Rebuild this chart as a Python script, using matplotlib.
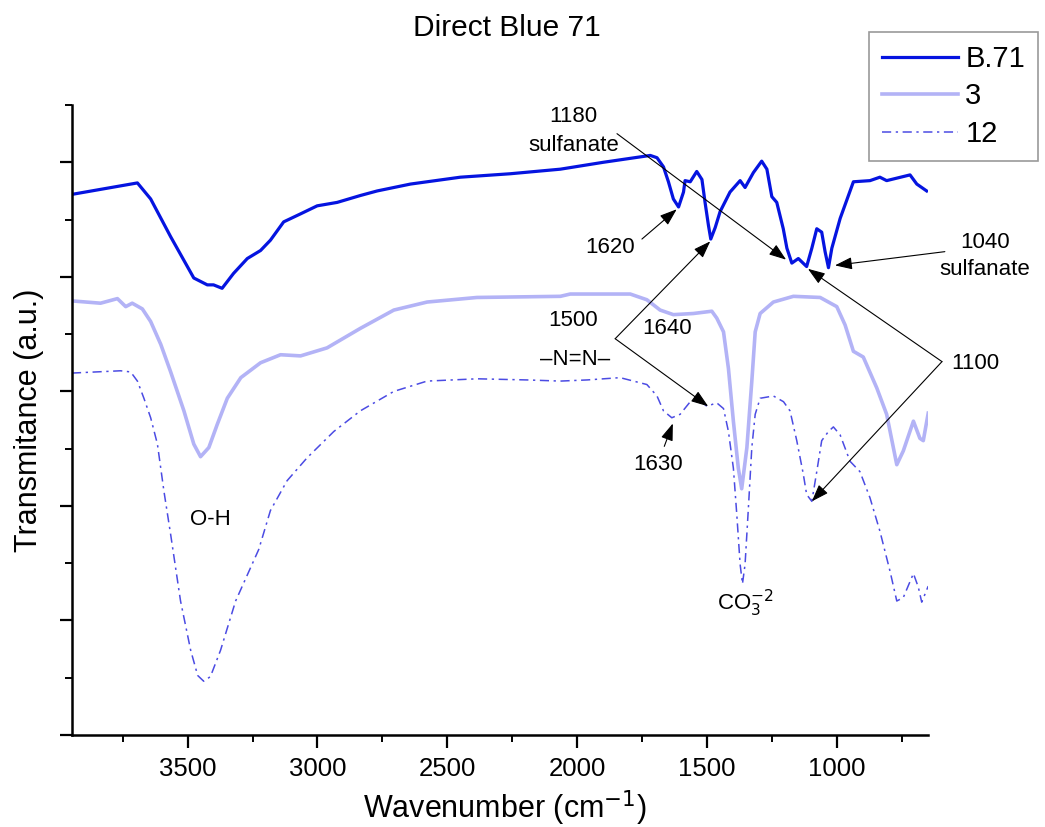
import matplotlib
matplotlib.use("Agg")
import matplotlib.pyplot as plt
from matplotlib.ticker import MultipleLocator, NullFormatter

plt.rcParams['font.family'] = ['Liberation Sans', 'DejaVu Sans']

# B.71 (dye)
wn_b71 = [3945, 3693, 3642, 3565, 3476, 3424, 3400, 3367, 3323, 3270, 3219, 3181,
          3130, 3065, 3001, 2924, 2835, 2770, 2642, 2450, 2258, 2065, 1900, 1719,
          1693, 1668, 1649, 1630, 1610, 1591, 1585, 1565, 1540, 1520, 1508, 1495,
          1486, 1469, 1450, 1412, 1373, 1354, 1322, 1290, 1270, 1251, 1232, 1207,
          1193, 1174, 1149, 1117, 1097, 1078, 1059, 1046, 1033, 1020, 988, 937,
          873, 835, 809, 719, 693, 655]
t_b71 = [4.72, 4.82, 4.68, 4.35, 3.99, 3.93, 3.93, 3.90, 4.03, 4.16, 4.23, 4.32,
         4.48, 4.55, 4.62, 4.65, 4.71, 4.75, 4.81, 4.87, 4.90, 4.94, 5.00, 5.06,
         5.04, 4.96, 4.83, 4.68, 4.61, 4.74, 4.84, 4.83, 4.92, 4.85, 4.65, 4.45,
         4.33, 4.43, 4.57, 4.74, 4.84, 4.78, 4.91, 5.01, 4.94, 4.70, 4.65, 4.42,
         4.25, 4.12, 4.16, 4.09, 4.25, 4.42, 4.39, 4.22, 4.08, 4.25, 4.51, 4.83,
         4.84, 4.87, 4.84, 4.89, 4.81, 4.75]

# sample 3
wn_3 = [3945, 3835, 3770, 3738, 3713, 3674, 3642, 3603, 3565, 3514, 3476, 3450,
        3418, 3386, 3347, 3295, 3219, 3142, 3065, 2963, 2835, 2706, 2578, 2386,
        2065, 2027, 1796, 1732, 1681, 1630, 1553, 1482, 1463, 1437, 1418, 1399,
        1380, 1367, 1347, 1328, 1315, 1296, 1245, 1168, 1065, 1001, 969, 937,
        899, 847, 809, 770, 745, 706, 681, 668, 649]
t_3 = [3.79, 3.77, 3.81, 3.74, 3.77, 3.72, 3.61, 3.41, 3.17, 2.83, 2.54, 2.43,
       2.51, 2.71, 2.94, 3.12, 3.25, 3.32, 3.31, 3.38, 3.55, 3.71, 3.78, 3.82,
       3.83, 3.85, 3.85, 3.80, 3.71, 3.67, 3.68, 3.70, 3.64, 3.52, 3.20, 2.74,
       2.33, 2.15, 2.51, 3.09, 3.52, 3.68, 3.78, 3.83, 3.82, 3.74, 3.58, 3.35,
       3.30, 3.03, 2.80, 2.36, 2.48, 2.74, 2.59, 2.57, 2.81]

# sample 12
wn_12 = [3945, 3758, 3719, 3693, 3668, 3642, 3616, 3591, 3565, 3527, 3488, 3461,
         3438, 3412, 3373, 3315, 3226, 3181, 3117, 3040, 2937, 2835, 2706, 2578,
         2385, 2193, 2065, 1962, 1835, 1732, 1693, 1668, 1636, 1604, 1565, 1533,
         1501, 1463, 1437, 1418, 1399, 1386, 1373, 1364, 1354, 1341, 1328, 1315,
         1296, 1245, 1206, 1181, 1155, 1130, 1117, 1097, 1078, 1059, 1033, 1014,
         988, 950, 912, 873, 835, 796, 770, 745, 706, 687, 674, 649]
t_12 = [3.16, 3.18, 3.17, 3.09, 2.94, 2.77, 2.54, 2.13, 1.75, 1.17, 0.74, 0.52,
        0.47, 0.51, 0.74, 1.17, 1.62, 1.96, 2.22, 2.42, 2.65, 2.83, 3.00, 3.09,
        3.11, 3.10, 3.09, 3.10, 3.12, 3.06, 2.96, 2.83, 2.77, 2.80, 2.91, 2.93,
        2.87, 2.90, 2.85, 2.65, 2.33, 1.93, 1.49, 1.32, 1.49, 1.99, 2.51, 2.80,
        2.94, 2.96, 2.91, 2.83, 2.57, 2.28, 2.10, 2.04, 2.30, 2.57, 2.65, 2.69,
        2.62, 2.39, 2.30, 2.07, 1.78, 1.43, 1.17, 1.20, 1.41, 1.29, 1.16, 1.30]

fig = plt.figure(figsize=(10.45, 8.27), dpi=100)
ax = fig.add_axes([0.0686, 0.1112, 0.8194, 0.7618])

ax.plot(wn_b71, t_b71, color='#0514e0', lw=2.3, label='B.71')
ax.plot(wn_3, t_3, color='#b3b3f6', lw=2.6, label='3')
ax.plot(wn_12, t_12, color='#4b4be3', lw=1.1, linestyle=(0, (6, 3, 1.5, 3)), label='12')

ax.set_xlim(3946, 650)
ax.set_ylim(0, 5.5)

for s in ['top', 'right']:
    ax.spines[s].set_visible(False)
for s in ['left', 'bottom']:
    ax.spines[s].set_linewidth(1.8)

ax.xaxis.set_major_locator(MultipleLocator(500))
ax.xaxis.set_minor_locator(MultipleLocator(250))
ax.yaxis.set_major_locator(MultipleLocator(1))
ax.yaxis.set_minor_locator(MultipleLocator(0.5))
ax.yaxis.set_major_formatter(NullFormatter())
ax.tick_params(which='major', length=9, width=1.6, direction='out', labelsize=18.5, pad=7)
ax.tick_params(which='minor', length=5, width=1.4, direction='out')

ax.set_xlabel('Wavenumber (cm$^{-1}$)', fontsize=22)
ax.set_ylabel('Transmitance (a.u.)', fontsize=22)
ax.xaxis.set_label_coords(0.506, -0.085)
ax.yaxis.set_label_coords(-0.032, 0.5)

fig.text(507 / 1045, 1 - 28 / 827, 'Direct Blue 71', ha='center', va='center', fontsize=21.5)

leg = ax.legend(loc='upper left', bbox_to_anchor=(869 / 1045, 1 - 31.7 / 827),
                bbox_transform=fig.transFigure, fontsize=21, frameon=True,
                fancybox=False, edgecolor='#808080', borderpad=0.45,
                handlelength=2.6, handletextpad=0.25, labelspacing=0.33,
                borderaxespad=0)
leg.get_frame().set_linewidth(1.2)

fs = 16
arrow = dict(arrowstyle='-|>,head_length=0.7,head_width=0.25', color='black',
             lw=0.8, shrinkA=0, shrinkB=0, mutation_scale=15)

ax.text(2015, 5.40, '1180', ha='center', va='center', fontsize=fs)
ax.text(2015, 5.15, 'sulfanate', ha='center', va='center', fontsize=fs)
ax.annotate('', xy=(1196, 4.15), xytext=(1847, 5.25), arrowprops=arrow)

ax.text(1873, 4.26, '1620', ha='center', va='center', fontsize=fs)
ax.annotate('', xy=(1617, 4.59), xytext=(1751, 4.33), arrowprops=arrow)

ax.text(431, 4.30, '1040', ha='center', va='center', fontsize=fs)
ax.text(431, 4.06, 'sulfanate', ha='center', va='center', fontsize=fs)
ax.annotate('', xy=(1008, 4.10), xytext=(585, 4.22), arrowprops=arrow,
            annotation_clip=False)

ax.text(469, 3.24, '1100', ha='center', va='center', fontsize=fs)
ax.annotate('', xy=(1112, 4.07), xytext=(596, 3.26), arrowprops=arrow,
            annotation_clip=False)
ax.annotate('', xy=(1097, 2.04), xytext=(596, 3.26), arrowprops=arrow,
            annotation_clip=False)

ax.text(2015, 3.62, '1500', ha='center', va='center', fontsize=fs)
ax.text(2008, 3.28, '\u2013N=N\u2013', ha='center', va='center', fontsize=fs)
ax.annotate('', xy=(1488, 4.31), xytext=(1854, 3.46), arrowprops=arrow)
ax.annotate('', xy=(1496, 2.87), xytext=(1854, 3.46), arrowprops=arrow)

ax.text(1655, 3.55, '1640', ha='center', va='center', fontsize=fs)

ax.text(1687, 2.36, '1630', ha='center', va='center', fontsize=fs)
ax.annotate('', xy=(1632, 2.72), xytext=(1665, 2.52), arrowprops=arrow)

ax.text(3411, 1.88, 'O-H', ha='center', va='center', fontsize=fs)
ax.text(1354, 1.15, 'CO$_3^{-2}$', ha='center', va='center', fontsize=fs)

fig.savefig('out.png', dpi=100)
